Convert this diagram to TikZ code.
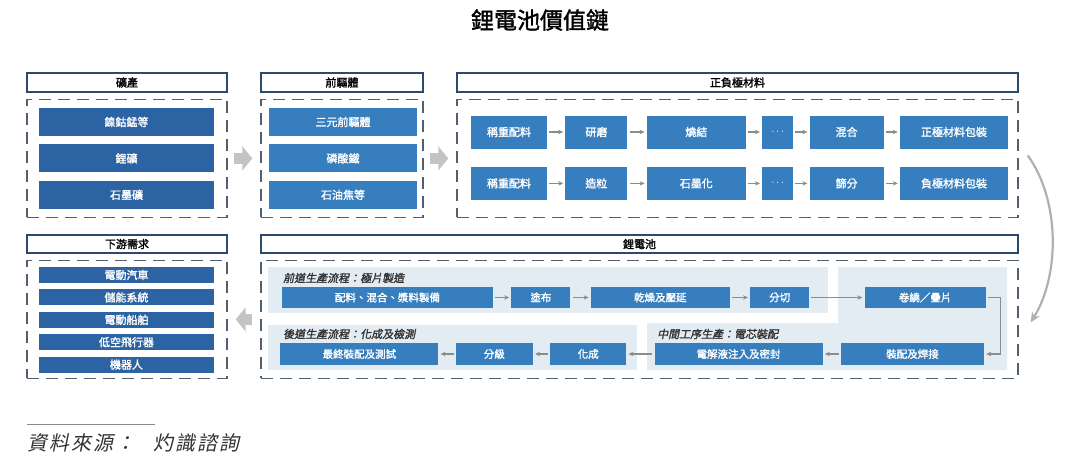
\documentclass[tikz,border=0pt]{standalone}
\usepackage{fontspec}
\setmainfont{Noto Sans CJK TC}[AutoFakeBold=1.6,AutoFakeSlant=0.2]
\usepackage{xcolor}
\usepackage{tikz}
\usetikzlibrary{arrows.meta, positioning, calc}
\definecolor{deepblue}{RGB}{44,99,162}
\definecolor{midblue}{RGB}{54,126,190}
\definecolor{hdrblue}{RGB}{46,74,107}
\definecolor{dashgray}{RGB}{82,95,110}
\definecolor{panelblue}{RGB}{228,236,243}
\definecolor{arrowgray}{RGB}{140,140,140}
\definecolor{blockgray}{RGB}{196,196,196}
\definecolor{curvegray}{RGB}{176,176,176}
\definecolor{textgray}{RGB}{50,50,50}
\tikzset{
  hdr/.style={rectangle, draw=hdrblue, line width=1.4pt, fill=white, minimum height=19pt,
    inner sep=0pt, font=\fontsize{11}{13}\selectfont\bfseries},
  grp/.style={rectangle, draw=dashgray, line width=1.4pt, dash pattern=on 12pt off 7pt,
    minimum height=118pt, inner sep=0pt},
  blk/.style={rectangle, fill=deepblue, text=white, inner sep=0pt, minimum height=28pt,
    font=\fontsize{11}{13}\selectfont\bfseries},
  pbox/.style={rectangle, fill=midblue, text=white, inner sep=0pt, minimum height=21pt,
    font=\fontsize{10.5}{12}\selectfont\bfseries},
  mbox/.style={pbox, minimum height=33pt, font=\fontsize{11}{13}\selectfont\bfseries},
  lbl/.style={anchor=west, inner sep=0pt, text=textgray, font=\fontsize{11}{13}\selectfont\bfseries\itshape},
  arrow/.style={-{Stealth[length=5pt,width=4.5pt]}, line width=1.1pt, arrowgray, shorten <=2pt, shorten >=2pt},
  bigarrow/.style={-{Triangle[length=10pt,width=24pt]}, line width=11pt, blockgray},
  curve/.style={-{Stealth[length=10pt,width=9pt]}, line width=2.2pt, curvegray}
}
\begin{document}
\begin{tikzpicture}[x=1pt, y=-1pt]
  \useasboundingbox (0,0) rectangle (1080,467);
  \node[font=\fontsize{23}{26}\selectfont\bfseries] (title) at (540,20) {鋰電池價值鏈};

  % upstream: ore, precursor, electrode materials
  \node[hdr, minimum width=200pt] (minehdr) at (127,82.5) {礦產};
  \node[grp, minimum width=200pt, below=6pt of minehdr] (mine) {};
  \node[blk, minimum width=175pt] (ore1) at (126.5,122) {鎳鈷錳等};
  \node[blk, minimum width=175pt, below=8pt of ore1] (ore2) {鋰礦};
  \node[blk, minimum width=175pt, below=8pt of ore2] (ore3) {石墨礦};

  \node[hdr, minimum width=162pt] (prehdr) at (342,82.5) {前驅體};
  \node[grp, minimum width=162pt, below=6pt of prehdr] (pre) {};
  \node[blk, fill=midblue, minimum width=148pt] (pre1) at (343,122) {三元前驅體};
  \node[blk, fill=midblue, minimum width=148pt, below=8pt of pre1] (pre2) {磷酸鐵};
  \node[blk, fill=midblue, minimum width=148pt, below=8pt of pre2] (pre3) {石油焦等};

  \node[hdr, minimum width=561pt] (mathdr) at (737.5,82.5) {正負極材料};
  \node[grp, minimum width=561pt, below=6pt of mathdr] (mat) {};
  \node[mbox, minimum width=76pt] (weigh1) at (509,132) {稱重配料};
  \node[mbox, minimum width=62pt, right=18pt of weigh1] (grind) {研磨};
  \node[mbox, minimum width=99pt, right=19pt of grind] (sinter) {燒結};
  \node[mbox, minimum width=31pt, right=16pt of sinter] (dots1) {$\cdots$};
  \node[mbox, minimum width=74pt, right=16pt of dots1] (mix) {混合};
  \node[mbox, minimum width=108pt, right=16pt of mix] (cpack) {正極材料包裝};
  \node[mbox, minimum width=76pt, below=18pt of weigh1] (weigh2) {稱重配料};
  \node[mbox, minimum width=62pt, below=18pt of grind] (gran) {造粒};
  \node[mbox, minimum width=99pt, below=18pt of sinter] (graph) {石墨化};
  \node[mbox, minimum width=31pt, below=18pt of dots1] (dots2) {$\cdots$};
  \node[mbox, minimum width=74pt, below=18pt of mix] (sieve) {篩分};
  \node[mbox, minimum width=108pt, below=18pt of cpack] (apack) {負極材料包裝};
  \draw[arrow] (weigh1) -- (grind);
  \draw[arrow] (grind) -- (sinter);
  \draw[arrow] (sinter) -- (dots1);
  \draw[arrow] (dots1) -- (mix);
  \draw[arrow] (mix) -- (cpack);
  \draw[arrow] (weigh2) -- (gran);
  \draw[arrow] (gran) -- (graph);
  \draw[arrow] (graph) -- (dots2);
  \draw[arrow] (dots2) -- (sieve);
  \draw[arrow] (sieve) -- (apack);

  % downstream demand
  \node[hdr, minimum width=200pt, minimum height=18pt] (demhdr) at (127,244) {下游需求};
  \node[grp, minimum width=200pt, below=6pt of demhdr] (dem) {};
  \node[blk, minimum width=175pt, minimum height=16pt] (ev) at (126.5,275) {電動汽車};
  \node[blk, minimum width=175pt, minimum height=16pt, below=6pt of ev] (ess) {儲能系統};
  \node[blk, minimum width=175pt, minimum height=16pt, below=6pt of ess] (ship) {電動船舶};
  \node[blk, minimum width=175pt, minimum height=16pt, below=6pt of ship] (uav) {低空飛行器};
  \node[blk, minimum width=175pt, minimum height=16pt, below=6pt of uav] (robot) {機器人};

  % battery cell
  \node[hdr, minimum width=757pt, minimum height=18pt] (batthdr) at (639.5,244) {鋰電池};
  \node[grp, minimum width=757pt, below=6pt of batthdr] (batt) {};
  \fill[panelblue] (268,267) rectangle (828,313);
  \fill[panelblue] (268,325) rectangle (637,370);
  \fill[panelblue] (647,323) -- (838,323) -- (838,267) -- (1007,267) -- (1007,370) -- (647,370) -- cycle;
  \node[lbl] (frontlbl) at (283,278) {前道生產流程：極片製造};
  \node[lbl] (backlbl) at (283,334) {後道生產流程：化成及檢測};
  \node[lbl] (midlbl) at (657,334) {中間工序生產：電芯裝配};

  \node[pbox, minimum width=211pt] (slurry) at (387.5,297.5) {配料、混合、漿料製備};
  \node[pbox, minimum width=59pt, right=18pt of slurry] (coat) {塗布};
  \node[pbox, minimum width=139pt, right=20pt of coat] (dry) {乾燥及壓延};
  \node[pbox, minimum width=59pt, right=20pt of dry] (slit) {分切};
  \node[pbox, minimum width=121pt, right=55pt of slit] (wind) {卷繞／疊片};
  \node[pbox, minimum width=143pt, minimum height=22pt] (weld) at (912.5,354) {裝配及焊接};
  \node[pbox, minimum width=168pt, minimum height=22pt, left=18pt of weld] (inject) {電解液注入及密封};
  \node[pbox, minimum width=76pt, minimum height=22pt, left=28pt of inject] (form) {化成};
  \node[pbox, minimum width=77pt, minimum height=22pt, left=17pt of form] (grade) {分級};
  \node[pbox, minimum width=158pt, minimum height=22pt, left=17pt of grade] (final) {最終裝配及測試};
  \draw[arrow] (slurry) -- (coat);
  \draw[arrow] (coat) -- (dry);
  \draw[arrow] (dry) -- (slit);
  \draw[arrow] (slit) -- (wind);
  \draw[arrow] (wind.east) -- ++(15,0) |- (weld.east);
  \draw[arrow] (weld) -- (inject);
  \draw[arrow] (inject) -- (form);
  \draw[arrow] (form) -- (grade);
  \draw[arrow] (grade) -- (final);

  % flow between stages
  \draw[bigarrow, shorten <=6pt, shorten >=8pt] (mine) -- (pre);
  \draw[bigarrow, shorten <=6pt, shorten >=8pt] (pre) -- (mat);
  \draw[curve] ([xshift=9pt,yshift=3pt]mat.east) .. controls (1060,200) and (1060,275) .. ([xshift=12pt,yshift=-3pt]batt.east);
  \draw[bigarrow, shorten <=8pt, shorten >=8pt] (batt) -- (dem);

  % source
  \draw[line width=1pt, arrowgray] (27,424) -- (155,424);
  \node[anchor=west, inner sep=0pt, text=textgray, font=\fontsize{20}{24}\selectfont\itshape\addfontfeature{LetterSpace=10}] (src) at (27,443) {資料來源：\hspace{18pt}灼識諮詢};
\end{tikzpicture}
\end{document}
